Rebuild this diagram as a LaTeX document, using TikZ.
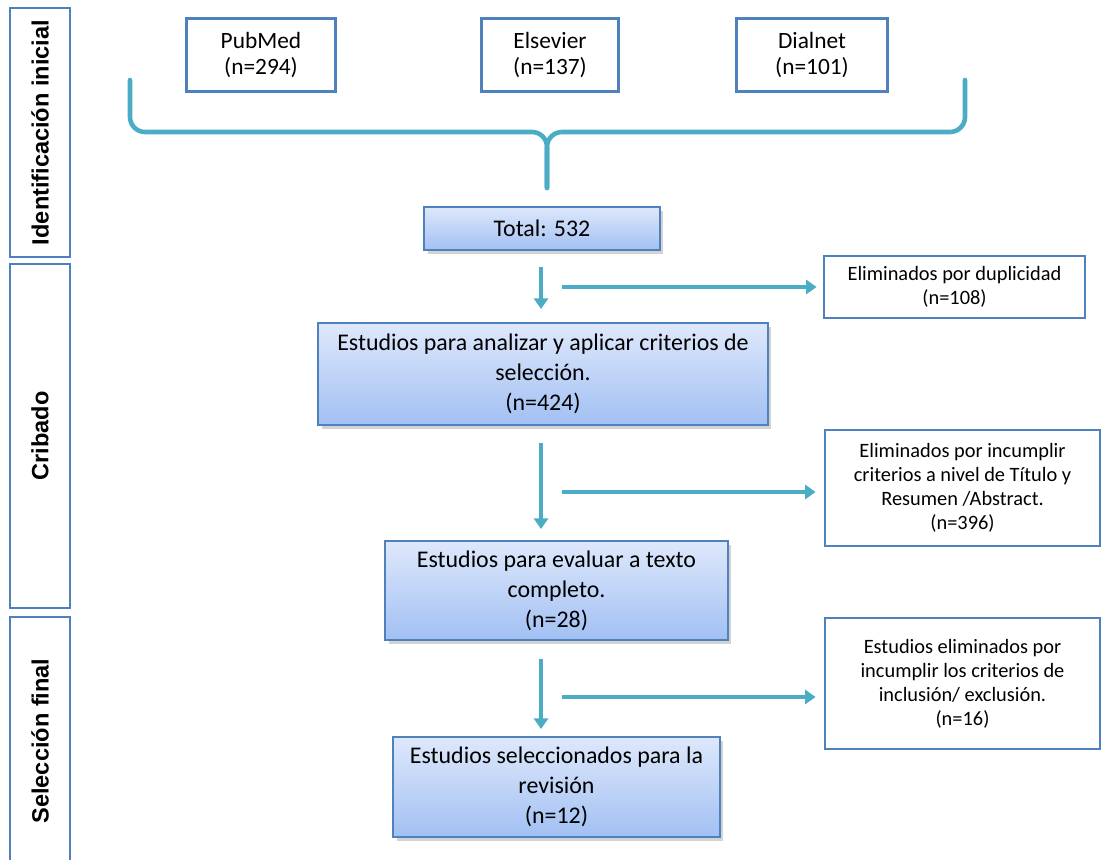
\documentclass[tikz,border=0pt]{standalone}
\usepackage{fontspec}
\setmainfont{Carlito}
\newfontfamily\sidefont{Liberation Sans}
\usetikzlibrary{arrows.meta, positioning, calc, shadows}
\definecolor{cBorder}{RGB}{79,129,189}
\definecolor{cArrow}{RGB}{75,172,198}
\definecolor{cTop}{RGB}{222,232,251}
\definecolor{cBot}{RGB}{162,192,243}
\tikzset{
  %% plain boxes (sources, excluded)
  srcbox/.style={rectangle, draw=cBorder, line width=1.6pt, fill=white,
                 align=center, font=\fontsize{13.3}{14.4}\selectfont, inner sep=2pt},
  exbox/.style={srcbox, font=\fontsize{11.6}{13.6}\selectfont, minimum width=5.5cm},
  %% shaded boxes (main flow)
  flowbox/.style={rectangle, draw=cBorder, line width=1.2pt, top color=cTop,
                  bottom color=cBot, align=center, font=\fontsize{13.6}{17}\selectfont,
                  inner sep=2pt,
                  drop shadow={shadow xshift=2pt, shadow yshift=-2pt, opacity=0.35}},
  %% side phases
  phase/.style={rectangle, draw=cBorder, line width=1.6pt, minimum height=1.2cm,
                rotate=90, font=\sidefont\bfseries\fontsize{13.4}{15}\selectfont},
  %% connectors
  flowarrow/.style={draw=cArrow, line width=2.6pt, -{Triangle[width=8pt,length=6pt]}},
  brace/.style={draw=cArrow, line width=2.6pt, rounded corners=0.3cm, line cap=round},
}

\begin{document}
\begin{tikzpicture}[x=0.02cm, y=-0.02cm]
\useasboundingbox (0,0) rectangle (1102,859);

%% -- phases (left column) --
\node[phase, minimum width=4.98cm] (ident) at (40,132.5) {Identificación inicial};
\node[phase, minimum width=6.88cm] (crib)  at (40,436)   {Cribado};
\node[phase, minimum width=4.96cm] (selec) at (40,741)   {Selección final};

%% -- sources --
\node[srcbox, minimum width=2.98cm, minimum height=1.46cm] (pubmed)   at (261,55) {PubMed\\(n=294)};
\node[srcbox, minimum width=2.74cm, minimum height=1.46cm] (elsevier) at (550,55) {Elsevier\\(n=137)};
\node[srcbox, minimum width=3.02cm, minimum height=1.46cm] (dialnet)  at (812,55) {Dialnet\\(n=101)};

%% -- brace joining the sources --
\coordinate (bL)   at (130,80);
\coordinate (bR)   at (965,80);
\coordinate (bMid) at (547,132);
\coordinate (bTip) at (547,188);
\draw[brace] (bL) |- (bMid) -- (bTip);
\draw[brace] (bR) |- (bMid) -- (bTip);

%% -- main flow --
\node[flowbox, minimum width=4.72cm, minimum height=0.86cm] (total) at (542,228.5) {Total: 532};
\node[flowbox, minimum width=9.0cm,  minimum height=2.04cm] (anal)  at (543,374)
  {Estudios para analizar y aplicar criterios de\\selección.\\(n=424)};
\node[flowbox, minimum width=6.86cm, minimum height=1.98cm] (texto) at (556.5,590.5)
  {Estudios para evaluar a texto\\completo.\\(n=28)};
\node[flowbox, minimum width=6.54cm, minimum height=2.0cm]  (final) at (556.5,787)
  {Estudios seleccionados para la\\revisión\\(n=12)};

%% -- excluded --
\node[exbox, minimum width=5.22cm, minimum height=1.24cm] (dup) at (954.5,287)
  {Eliminados por duplicidad\\(n=108)};
\node[exbox, minimum height=2.32cm] (titulo) at (962.5,488)
  {Eliminados por incumplir\\criterios a nivel de Título y\\Resumen /Abstract.\\(n=396)};
\node[exbox, minimum height=2.62cm] (incl) at (962.5,683.5)
  {Estudios eliminados por\\incumplir los criterios de\\inclusión/ exclusión.\\(n=16)};

%% -- vertical arrows --
\draw[flowarrow, shorten <=0.32cm, shorten >=0.26cm]
  ([xshift=-0.02cm]total.south) -- ([xshift=-0.02cm]total.south |- anal.north);
\draw[flowarrow, shorten <=0.34cm, shorten >=0.22cm]
  ([xshift=-0.04cm]anal.south) -- ([xshift=-0.04cm]anal.south |- texto.north);
\draw[flowarrow, shorten <=0.36cm, shorten >=0.14cm]
  ([xshift=-0.31cm]texto.south) -- ([xshift=-0.31cm]texto.south |- final.north);

%% -- side arrows --
\coordinate (s1) at (562,287);
\coordinate (s2) at (562,492);
\coordinate (s3) at (562,697);
\draw[flowarrow, shorten >=0.12cm] (s1) -- (s1 -| dup.west);
\draw[flowarrow, shorten >=0.16cm] (s2) -- (s2 -| titulo.west);
\draw[flowarrow, shorten >=0.16cm] (s3) -- (s3 -| incl.west);

\end{tikzpicture}
\end{document}
